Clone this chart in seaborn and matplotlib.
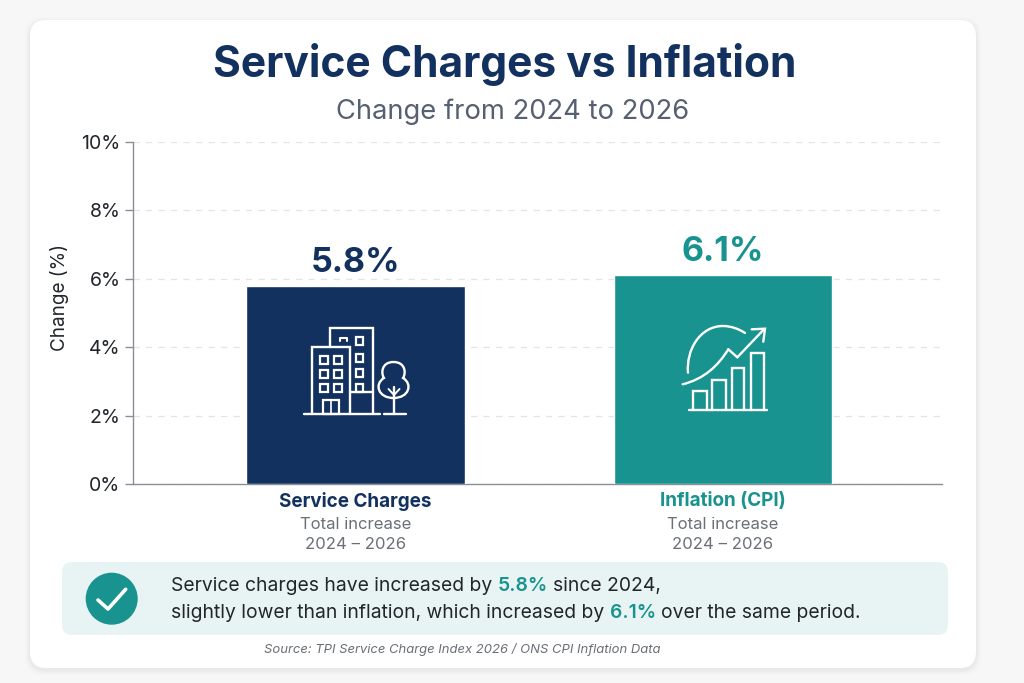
import matplotlib
matplotlib.use('Agg')
import matplotlib.pyplot as plt
import seaborn as sns
import pandas as pd
from matplotlib.patches import FancyBboxPatch, Rectangle, Circle
from matplotlib.path import Path
from matplotlib.patches import PathPatch

categories = ['Service Charges', 'Inflation (CPI)']
values = [5.8, 6.1]
value_labels = ['5.8%', '6.1%']
y_ticks = [0, 2, 4, 6, 8, 10]
y_tick_labels = ['0%', '2%', '4%', '6%', '8%', '10%']
sub_label = 'Total increase\n2024 – 2026'

NAVY = '#12315f'
TEAL = '#18938f'
INK = '#22262c'

sns.set_theme(style='white')
plt.rcParams['font.family'] = ['Inter', 'DejaVu Sans']

fig = plt.figure(figsize=(10.24, 6.83), dpi=100, facecolor='#f7f7f7')


def overlay(z):
    a = fig.add_axes([0, 0, 1, 1], zorder=z)
    a.set_xlim(0, 1024)
    a.set_ylim(683, 0)
    a.axis('off')
    a.patch.set_alpha(0)
    return a


bg = overlay(0)
# soft card shadow
for grow, alpha in [(5, 0.012), (3, 0.018), (1.5, 0.025)]:
    bg.add_patch(FancyBboxPatch((30 - grow, 20 - grow + 2), 946 + 2 * grow, 648 + 2 * grow,
                                boxstyle='round,pad=0,rounding_size=18', fc='black', ec='none', alpha=alpha))
bg.add_patch(FancyBboxPatch((30, 20), 946, 648, boxstyle='round,pad=0,rounding_size=16',
                            fc='white', ec='none'))
bg.add_patch(FancyBboxPatch((62, 562), 886, 73, boxstyle='round,pad=0,rounding_size=10',
                            fc='#e8f4f3', ec='none'))

bg.text(504.5, 65, 'Service Charges vs Inflation', ha='center', va='center',
        fontsize=30.6, fontweight='bold', color=NAVY)
bg.text(513, 112, 'Change from 2024 to 2026', ha='center', va='center',
        fontsize=19.7, color='#566070')
bg.text(462, 649, 'Source: TPI Service Charge Index 2026 / ONS CPI Inflation Data', ha='center',
        va='center', fontsize=9.4, style='italic', color='#6b6f75')

# chart
ax = fig.add_axes([133 / 1024, (683 - 484) / 683, 809 / 1024, 342 / 683], zorder=1)
ax.patch.set_alpha(0)
df = pd.DataFrame({'category': categories, 'value': values})
sns.barplot(data=df, x='category', y='value', hue='category', palette=[NAVY, TEAL],
            saturation=1, width=0.594, legend=False, ax=ax, zorder=3)
ax.set_xlim(-0.605, 1.596)
ax.set_ylim(0, 10)
ax.set_yticks(y_ticks)
ax.set_yticklabels(y_tick_labels, fontsize=14, color=INK)
ax.set_xlabel('')
ax.set_ylabel('Change (%)', fontsize=13.6, color=INK, labelpad=9, y=0.545)
ax.yaxis.grid(True, linestyle=(0, (5, 5)), color='#e3e4e7', linewidth=0.9, zorder=0)
ax.set_axisbelow(True)
sns.despine(ax=ax, top=True, right=True)
for side in ['left', 'bottom']:
    ax.spines[side].set_color('#8b8f94')
    ax.spines[side].set_linewidth(1)
ax.tick_params(axis='y', left=True, length=6, width=1, color='#8b8f94', pad=3)
ax.tick_params(axis='x', bottom=False, pad=0)
ax.set_xticks(range(len(categories)))
ax.set_xticklabels(categories, fontsize=13.6, fontweight='bold')
for tick, col in zip(ax.get_xticklabels(), [NAVY, TEAL]):
    tick.set_color(col)

for i, (v, lab, col) in enumerate(zip(values, value_labels, [NAVY, TEAL])):
    ax.annotate(lab, (i, v), xytext=(0, 5), textcoords='offset points', ha='center', va='bottom',
                fontsize=24.5, fontweight='bold', color=col)
    ax.annotate(sub_label, (i, 0), xytext=(0, -24), textcoords='offset points', ha='center', va='top',
                fontsize=12, color='#6a6f78', linespacing=1.42)

# icons and note on top
fg = overlay(2)
W = dict(color='white', lw=1.7, solid_capstyle='round', solid_joinstyle='miter')


def rect(a, x0, y0, x1, y1, lw=1.6):
    a.add_patch(Rectangle((x0, y0), x1 - x0, y1 - y0, fc='none', ec='white', lw=lw))


# building icon
fg.plot([311.7, 311.7, 350, 350], [414, 347.3, 347.3, 414], **W)
fg.plot([330, 330, 373.3, 373.3], [347.3, 327.7, 327.7, 414], **W)
fg.plot([304, 380], [414, 414], **W)
fg.plot([384, 406], [414, 414], **W)
fg.plot([350, 373.3], [392, 392], **W)
for wx in [320, 334]:
    for wy in [356, 370, 384]:
        rect(fg, wx, wy, wx + 7.5, wy + 8)
for wy in [337, 354, 369, 384]:
    rect(fg, 356, wy, 363, wy + 8)
fg.plot([340, 340, 347, 347], [341, 337.5, 337.5, 341], color='white', lw=1.5)
rect(fg, 323, 400, 339, 414)
fg.plot([331, 331], [400, 414], color='white', lw=1.2)
# tree
crown = Path([(393.5, 362), (381, 362), (381, 374), (384, 378), (374, 384), (378, 398), (393.5, 398),
              (409, 398), (413, 384), (403, 378), (406, 374), (406, 362), (393.5, 362)],
             [Path.MOVETO] + [Path.CURVE4] * 12)
fg.add_patch(PathPatch(crown, fc='none', ec='white', lw=1.7))
fg.plot([394, 394], [387, 414], **W)
fg.plot([388.5, 394, 399.5], [389, 395, 389], color='white', lw=1.4)

# growth icon
for x0, x1, top in [(693.3, 706.7, 390.7), (712.3, 725.7, 380), (731.7, 744.3, 367.7), (750.7, 764, 353.3)]:
    fg.plot([x0, x0, x1, x1], [410, top, top, 410], **W)
fg.plot([689, 767], [410, 410], **W)
arc = Path([(688, 372.7), (686, 350), (700, 326), (723, 326), (731, 326), (739, 329), (745, 333)],
           [Path.MOVETO] + [Path.CURVE4] * 6)
fg.add_patch(PathPatch(arc, fc='none', ec='white', lw=1.7, capstyle='round'))
rise = Path([(682.7, 384.3), (704, 379), (718, 366), (728.3, 349.3)], [Path.MOVETO] + [Path.CURVE4] * 3)
fg.add_patch(PathPatch(rise, fc='none', ec='white', lw=1.7, capstyle='round'))
fg.plot([728.3, 737.3, 764], [349.3, 357.3, 329.3], **W)
fg.plot([751.7, 765, 763.3], [329.3, 328.7, 341.7], **W)

# note
fg.add_patch(Circle((111.7, 598.7), 26, fc=TEAL, ec='none'))
fg.plot([98, 108, 125.7], [600, 609, 589.3], color='white', lw=2.6, solid_capstyle='round',
        solid_joinstyle='round')


def text_width(s, **kw):
    t = fg.text(0, 0, s, **kw)
    w = t.get_window_extent(fig.canvas.get_renderer()).width
    t.remove()
    return w


def rich_line(x, y, parts, fontsize=13.9):
    space = (text_width('a a', fontsize=fontsize) - text_width('aa', fontsize=fontsize))
    for s, col, weight in parts:
        kw = dict(fontsize=fontsize, fontweight=weight)
        fg.text(x, y, s, color=col, va='center', ha='left', **kw)
        x += text_width(s, **kw) + space


rich_line(171, 586, [('Service charges have increased by', INK, 'normal'), ('5.8%', TEAL, 'semibold'),
                     ('since 2024,', INK, 'normal')])
rich_line(171, 613, [('slightly lower than inflation, which increased by', INK, 'normal'), ('6.1%', TEAL, 'semibold'),
                     ('over the same period.', INK, 'normal')])

fig.savefig('out.png', dpi=100, facecolor=fig.get_facecolor())
